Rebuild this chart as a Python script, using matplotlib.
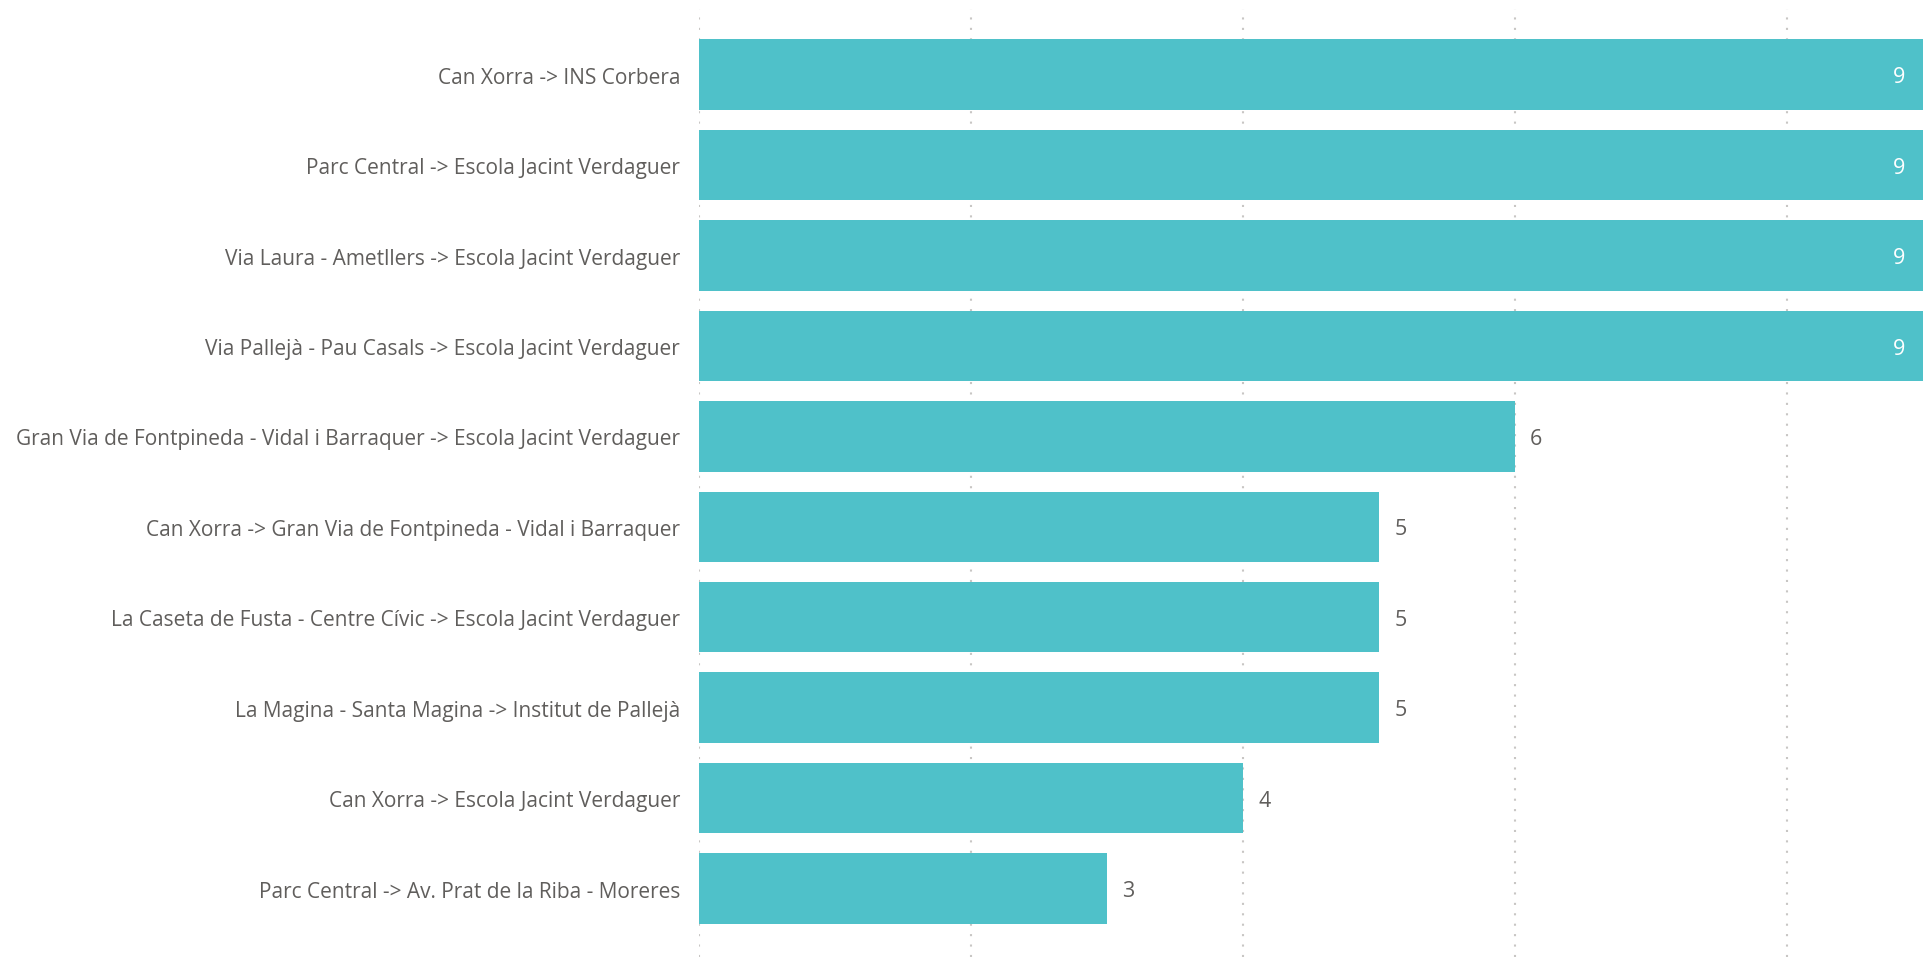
import matplotlib.pyplot as plt
from matplotlib.ticker import MultipleLocator

FONT = ["Open Sans", "DejaVu Sans"]
BAR_COLOR = "#4FC1C9"
TEXT_COLOR = "#605E5C"
GRID_COLOR = "#C8C6C4"

routes = [
    "Can Xorra -> INS Corbera",
    "Parc Central -> Escola Jacint Verdaguer",
    "Via Laura - Ametllers -> Escola Jacint Verdaguer",
    "Via Pallejà - Pau Casals -> Escola Jacint Verdaguer",
    "Gran Via de Fontpineda - Vidal i Barraquer -> Escola Jacint Verdaguer",
    "Can Xorra -> Gran Via de Fontpineda - Vidal i Barraquer",
    "La Caseta de Fusta - Centre Cívic -> Escola Jacint Verdaguer",
    "La Magina - Santa Magina -> Institut de Pallejà",
    "Can Xorra -> Escola Jacint Verdaguer",
    "Parc Central -> Av. Prat de la Riba - Moreres",
]
counts = [9, 9, 9, 9, 6, 5, 5, 5, 4, 3]

plt.rcParams["font.family"] = FONT

fig = plt.figure(figsize=(19.32, 9.62), dpi=100)
ax = fig.add_axes([0.3618, 0.0042, 0.6335, 0.9854])

positions = list(range(len(routes)))
ax.barh(positions, counts, height=0.78, color=BAR_COLOR, linewidth=0, zorder=2)

ax.set_xlim(0, 9)
ax.set_ylim(9.757, -0.726)
ax.xaxis.set_major_locator(MultipleLocator(2))
ax.grid(axis="x", color=GRID_COLOR, linestyle=(0, (1, 4)), linewidth=1.5, zorder=0)
ax.set_axisbelow(True)

ax.set_yticks(positions)
ax.set_yticklabels(routes, fontsize=15.0, color=TEXT_COLOR)
ax.tick_params(axis="y", length=0, pad=13.5)
ax.tick_params(axis="x", length=0, labelbottom=False)
for side in ax.spines.values():
    side.set_visible(False)

xmax = ax.get_xlim()[1]
for pos, val in zip(positions, counts):
    if val >= xmax * 0.95:
        ax.annotate(str(val), (val, pos), xytext=(-13, -1.5), textcoords="offset points",
                    ha="right", va="center", fontsize=15.5, color="white")
    else:
        ax.annotate(str(val), (val, pos), xytext=(11, -1.5), textcoords="offset points",
                    ha="left", va="center", fontsize=15.5, color=TEXT_COLOR)

fig.savefig("out.png", dpi=100)
